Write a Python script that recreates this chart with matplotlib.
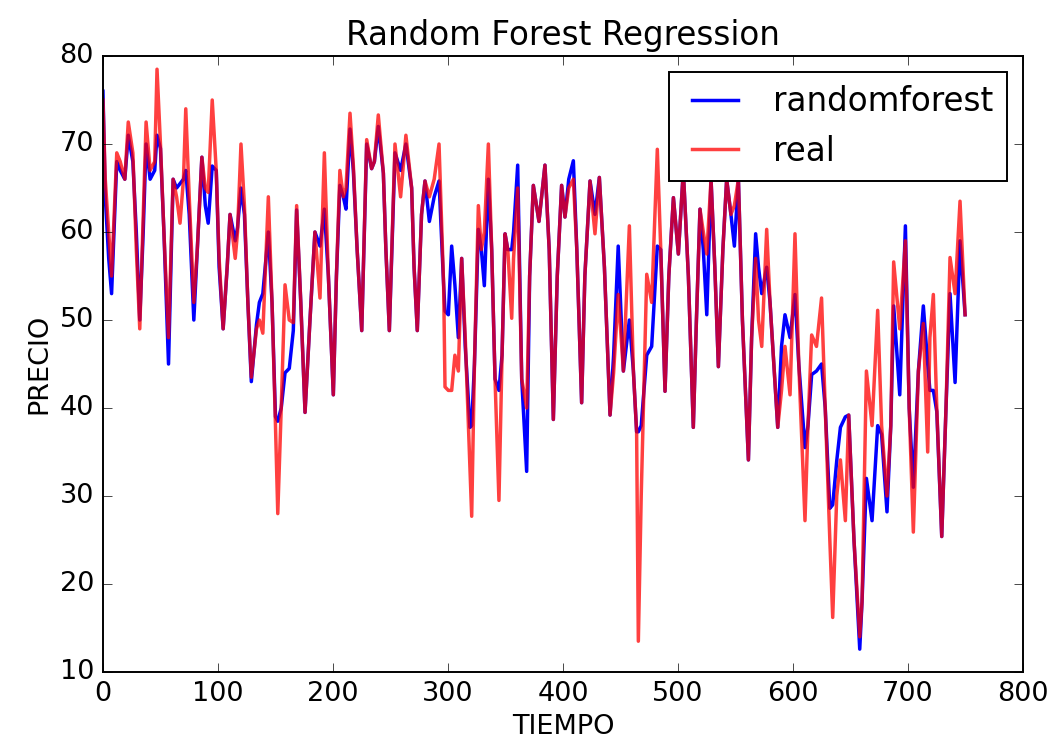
import matplotlib
matplotlib.use('Agg')
import matplotlib.pyplot as plt

# valores (tiempo, real, randomforest)
tiempo = [0, 2, 5, 7.5, 12, 15, 19, 22, 26, 29, 32, 35, 37.5, 41, 45, 47, 50, 53, 57,
          61, 64, 67, 70, 72, 75, 79, 82, 86, 89, 91.5, 95, 98.5, 101, 104.5, 108,
          110.5, 115, 117, 120, 123, 126, 129, 133.5, 136, 139, 143.8, 147, 150, 152,
          155, 158.3, 162, 165.5, 168.4, 172, 175.7, 180, 184.3, 188.7, 192.5, 196,
          200.3, 203, 206, 209, 211.3, 214.8, 217.7, 221, 225, 229.3, 233.6, 236,
          239.4, 243.8, 246, 249, 253.9, 258.8, 263.4, 268.4, 270.5, 273.3, 277, 280,
          283.8, 288, 292.2, 296.2, 297.4, 300.3, 303.2, 306, 309, 311.9, 315, 319.1,
          320.6, 323, 326.4, 329, 331.6, 335.1, 338, 340.9, 344.3, 347, 349.6, 352,
          355.4, 357, 360.6, 364.1, 368.4, 371, 374.2, 379.1, 384.3, 388, 391.6, 395,
          398.8, 401.7, 405, 409, 412, 416.2, 419, 423.5, 427.8, 431.6, 436, 440.9,
          444, 448, 452.5, 457.7, 461.2, 464, 465.5, 468, 472.8, 477.1, 482, 485,
          488.7, 492, 496, 500.3, 504.6, 509, 513.3, 516, 519.1, 522, 525, 528.7, 532,
          535.1, 539, 542.3, 546, 549, 552.5, 556, 561.2, 564, 567.5, 570, 572.8,
          577.1, 580, 586.7, 590, 593, 597.4, 601.7, 605, 610.4, 613, 616.2, 620.4,
          624.8, 628, 632, 634.5, 638, 641.2, 645.5, 648.4, 653, 658, 660, 663.8,
          668.7, 673.6, 677, 681.7, 685, 687.5, 692.8, 697.7, 701, 704.6, 709, 713.3,
          717.1, 719, 722, 725, 729.3, 733, 736.5, 740.9, 745.2, 749.6]

real = [75, 66, 60, 55, 69, 68, 66, 72.5, 69, 58, 49, 62, 72.5, 67, 68, 78.5, 70, 60, 48,
        66, 64, 61, 66, 74, 64, 52, 58, 68.5, 65, 64.5, 75, 67, 57, 49, 56,
        62, 57, 60, 70, 63, 52, 43.5, 49, 50, 48.5, 64, 52, 38, 28,
        40, 54, 50, 49.7, 63, 52, 39.5, 50, 60, 52.5, 69, 55,
        41.5, 55, 67, 64, 65, 73.5, 67.6, 58, 48.8, 70.5, 67.2, 68,
        73.3, 66.7, 58, 48.8, 70, 64, 71, 65, 56, 48.8, 62, 65.8,
        64, 66, 70, 54, 42.4, 42, 42, 46, 44.2, 57, 48, 33,
        27.7, 45, 63, 58, 60, 70, 58, 43.3, 29.5, 46, 59.8, 58,
        50.2, 57, 65, 43.3, 40, 55, 65.3, 61.2, 67.6, 58, 38.7, 55,
        65.3, 61.7, 65, 66, 58, 40.6, 55, 65.8, 59.8, 66.2, 56, 39.2,
        44, 52.9, 44.2, 60.7, 44.2, 37.3, 13.5, 30, 55.2, 52, 69.4, 58,
        41.9, 55, 63.9, 57.5, 67, 55, 37.8, 50, 62.6, 60, 57.5, 66, 56,
        44.7, 58, 66, 62, 63, 66, 50, 34.1, 48, 57, 50, 47,
        60.3, 52, 37.8, 42, 47, 41.5, 59.8, 45, 27.2, 38, 48.3, 47,
        52.5, 40, 25, 16.2, 30, 34.1, 27.2, 39.2, 25, 14, 18, 44.2,
        38, 51.1, 38, 30, 38, 56.6, 49, 59, 40, 25.9, 44.2, 49.6,
        35, 48, 52.9, 40, 25.4, 40, 57.1, 53, 63.5, 50.6]

randomforest = [76, 64, 57, 53, 68, 67, 66, 71, 68, 60, 50, 60, 70, 66, 67, 71, 69.5, 60, 45,
                66, 65, 65.5, 66, 67, 62, 50, 58, 68.5, 63, 61, 67.5, 67, 56, 49, 56,
                62, 59, 60.5, 65, 62, 52, 43, 49.5, 52, 53, 60, 52, 39, 38.5,
                40, 44, 44.5, 48.8, 62.5, 52, 39.5, 50, 60, 58.4, 62.6, 55,
                41.5, 55, 65.3, 64, 62.6, 71.7, 67, 58, 48.8, 70, 67.2, 68,
                72, 66.7, 58, 48.8, 69, 67, 70, 65, 56, 48.8, 62, 65.8,
                61.2, 64, 65.8, 54, 51, 50.6, 58.4, 54, 48, 57, 47, 37.8,
                38, 45, 60.3, 58, 53.9, 66, 58, 43.3, 42, 46, 59.8, 58,
                58, 60, 67.6, 43.3, 32.8, 55, 65.3, 61.2, 67.6, 58, 38.7, 55,
                65.3, 61.7, 66, 68.1, 58, 40.6, 55, 65.8, 62, 66.2, 56, 39.2,
                46, 58.4, 44.2, 50, 44.2, 37.3, 37.3, 38, 46, 47, 58.4, 58,
                41.9, 55, 63.9, 57.5, 67, 55, 37.8, 50, 62.6, 58, 50.6, 66, 56,
                44.7, 58, 66, 62, 58.4, 66, 50, 34.1, 48, 59.8, 56, 53,
                56, 52, 37.8, 47, 50.6, 48, 52.9, 45, 35.5, 38, 43.8, 44.2,
                45, 40, 28.6, 29, 34, 37.8, 39, 39.2, 25, 12.6, 18, 32,
                27.2, 38, 37, 28.2, 38, 51.6, 41.5, 60.7, 40, 31, 44.2, 51.6,
                45, 42, 42, 39.6, 25.4, 40, 53, 42.9, 59, 50.6]

plt.style.use('classic')
plt.rcParams['font.family'] = 'DejaVu Sans'
plt.rcParams['font.size'] = 19.5
plt.rcParams['xtick.major.size'] = 6.5
plt.rcParams['ytick.major.size'] = 6.5
plt.rcParams['xtick.minor.size'] = 3
plt.rcParams['ytick.minor.size'] = 3
plt.rcParams['xtick.major.pad'] = 6.5
plt.rcParams['ytick.major.pad'] = 6.5

fig = plt.figure(figsize=(10.56, 7.49), dpi=100, facecolor='white')
ax = fig.add_axes([0.0975, 0.1028, 0.8713, 0.8224])
ax.set_facecolor('white')
for s in ax.spines.values():
    s.set_linewidth(1.4)

ax.plot(tiempo, randomforest, color='b', lw=2.5, solid_joinstyle='round',
        label='randomforest')
ax.plot(tiempo, real, color='r', lw=2.5, alpha=0.75, solid_joinstyle='round',
        label='real')

ax.set_xlim(0, 800)
ax.set_ylim(10, 80)
ax.set_xticks(range(0, 801, 100))
ax.set_yticks(range(10, 81, 10))
ax.set_title('Random Forest Regression', fontsize=23.5, pad=8)
ax.set_xlabel('TIEMPO')
ax.set_ylabel('PRECIO')
leg = ax.legend(loc='upper right', fontsize=23.5)
leg.get_frame().set_linewidth(1.4)

fig.savefig('out.png', dpi=100, facecolor='white')
